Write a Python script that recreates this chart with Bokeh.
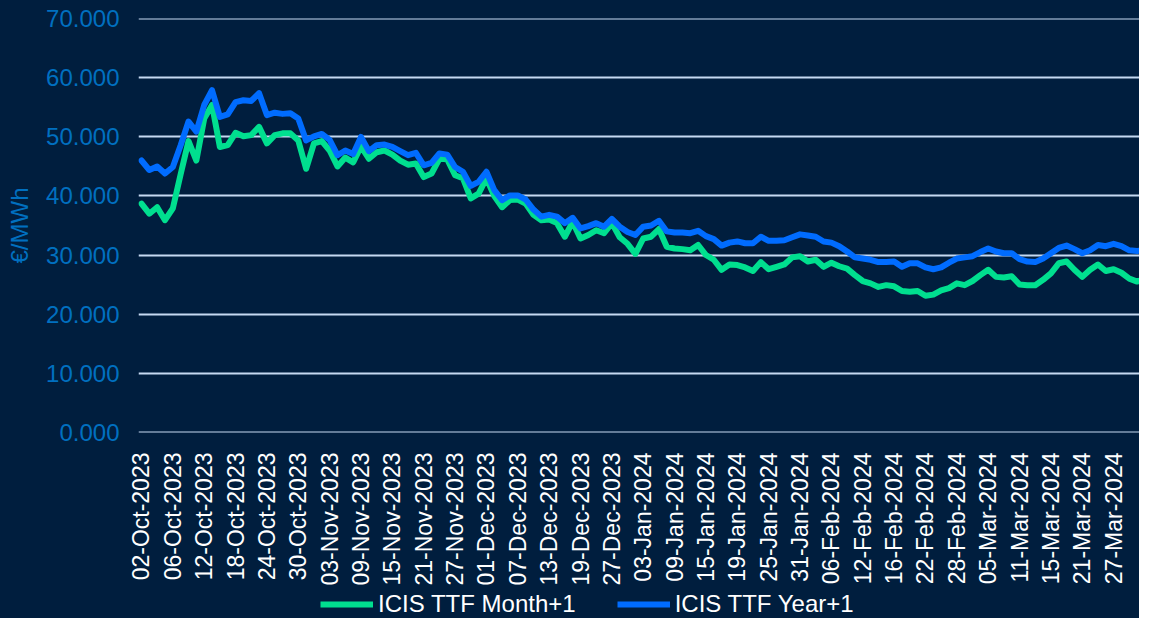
import math
from bokeh.plotting import figure
from bokeh.layouts import column
from bokeh.models import (Range1d, FixedTicker, PrintfTickFormatter, Legend, LegendItem,
                          ColumnDataSource)
from bokeh.embed import file_html
from bokeh.resources import INLINE

# ---------------- data ----------------
tick_labels = ["02-Oct-2023", "06-Oct-2023", "12-Oct-2023", "18-Oct-2023", "24-Oct-2023",
               "30-Oct-2023", "03-Nov-2023", "09-Nov-2023", "15-Nov-2023", "21-Nov-2023",
               "27-Nov-2023", "01-Dec-2023", "07-Dec-2023", "13-Dec-2023", "19-Dec-2023",
               "27-Dec-2023", "03-Jan-2024", "09-Jan-2024", "15-Jan-2024", "19-Jan-2024",
               "25-Jan-2024", "31-Jan-2024", "06-Feb-2024", "12-Feb-2024", "16-Feb-2024",
               "22-Feb-2024", "28-Feb-2024", "05-Mar-2024", "11-Mar-2024", "15-Mar-2024",
               "21-Mar-2024", "27-Mar-2024", "04-Apr-2024"]
tick_step = 4  # a label every 4th trading day

month_ahead = [38.7, 37.0, 38.1, 35.9, 37.9, 43.7, 49.3, 46.0, 53.1, 55.4,
               48.3, 48.6, 50.7, 50.1, 50.3, 51.7, 48.9, 50.3, 50.6, 50.6,
               49.4, 44.6, 48.9, 49.3, 47.7, 45.0, 46.5, 45.7, 48.4, 46.3,
               47.4, 47.7, 47.0, 46.0, 45.3, 45.5, 43.2, 43.8, 46.3, 46.2,
               43.5, 43.0, 39.6, 40.4, 43.0, 40.0, 38.1, 39.3, 39.4, 38.7,
               36.8, 35.9, 36.0, 35.4, 33.1, 35.6, 32.8, 33.4, 34.2, 33.7,
               35.4, 33.0, 31.9, 30.2, 32.8, 33.1, 34.4, 31.4, 31.1, 31.0,
               30.8, 31.7, 30.0, 29.2, 27.5, 28.4, 28.3, 27.9, 27.3, 28.8,
               27.6, 28.0, 28.4, 29.6, 29.8, 28.9, 29.2, 28.0, 28.7, 28.1,
               27.7, 26.6, 25.6, 25.2, 24.6, 24.9, 24.7, 23.9, 23.8, 23.9,
               23.1, 23.3, 24.0, 24.4, 25.2, 24.9, 25.6, 26.6, 27.5, 26.3,
               26.2, 26.4, 25.0, 24.9, 24.9, 25.8, 26.9, 28.6, 28.9, 27.5,
               26.3, 27.5, 28.4, 27.3, 27.6, 27.0, 26.0, 25.5, 26.0, 26.9]

year_ahead = [46.0, 44.4, 45.0, 43.8, 44.9, 48.6, 52.6, 50.9, 55.4, 57.9,
              53.4, 53.8, 55.9, 56.2, 56.1, 57.4, 53.7, 54.1, 53.9, 54.0,
              53.1, 49.4, 50.1, 50.5, 49.5, 46.9, 47.7, 47.1, 50.0, 47.6,
              48.6, 48.7, 48.3, 47.6, 46.9, 47.3, 45.2, 45.6, 47.2, 47.0,
              44.9, 44.1, 41.7, 42.4, 44.1, 41.0, 39.3, 40.1, 40.1, 39.4,
              37.7, 36.5, 36.8, 36.5, 35.4, 36.3, 34.5, 34.9, 35.4, 34.8,
              36.1, 34.8, 33.9, 33.4, 34.8, 35.0, 35.8, 34.0, 33.8, 33.8,
              33.7, 34.1, 33.2, 32.7, 31.6, 32.1, 32.3, 32.0, 32.0, 33.1,
              32.4, 32.4, 32.5, 33.0, 33.5, 33.3, 33.1, 32.3, 32.1, 31.5,
              30.6, 29.6, 29.4, 29.2, 28.8, 28.8, 28.9, 28.0, 28.6, 28.6,
              27.9, 27.6, 27.9, 28.7, 29.4, 29.6, 29.8, 30.5, 31.1, 30.6,
              30.3, 30.3, 29.3, 28.9, 28.8, 29.4, 30.3, 31.2, 31.6, 31.0,
              30.3, 30.8, 31.7, 31.5, 31.9, 31.5, 30.8, 30.7, 30.8, 31.7]

series_names = ["ICIS TTF Month+1", "ICIS TTF Year+1"]
y_axis_title = "€/MWh"
y_ticks = [0, 10, 20, 30, 40, 50, 60, 70]

# ---------------- style ----------------
BG = "#001E3E"
GREEN = "#00DF8F"
BLUE = "#006CFF"
GRID = "#C5D9F1"
YLAB = "#0070C0"
FONT = "Liberation Sans"

x = list(range(len(month_ahead)))
src = ColumnDataSource(dict(x=x, m=month_ahead, y=year_ahead))

# ---------------- main chart ----------------
p = figure(width=1139, height=590, output_backend="svg", toolbar_location=None,
           x_range=Range1d(-0.38, 127.3), y_range=Range1d(-0.05, 70.05),
           min_border_left=138, min_border_right=0, min_border_top=18, min_border_bottom=158,
           styles={"background-color": BG})
p.background_fill_color = BG
p.border_fill_color = None
p.outline_line_color = None

p.line("x", "m", source=src, line_color=GREEN, line_width=6,
       line_join="round", line_cap="round")
p.line("x", "y", source=src, line_color=BLUE, line_width=6,
       line_join="round", line_cap="round")

p.xgrid.grid_line_color = None
p.ygrid.grid_line_color = GRID
p.ygrid.grid_line_width = 2
p.ygrid.ticker = FixedTicker(ticks=y_ticks)

ya = p.yaxis[0]
ya.ticker = FixedTicker(ticks=y_ticks)
ya.formatter = PrintfTickFormatter(format="%.3f")
ya.axis_line_color = None
ya.major_tick_line_color = None
ya.minor_tick_line_color = None
ya.major_tick_out = 0
ya.major_tick_in = 0
ya.minor_tick_out = 0
ya.major_label_standoff = 19
ya.major_label_text_color = YLAB
ya.major_label_text_font = FONT
ya.major_label_text_font_size = "24px"
ya.axis_label = y_axis_title
ya.axis_label_text_color = YLAB
ya.axis_label_text_font = FONT
ya.axis_label_text_font_size = "24px"
ya.axis_label_text_font_style = "normal"
ya.axis_label_standoff = 10

tick_pos = [i * tick_step for i in range(len(tick_labels))]
xa = p.xaxis[0]
xa.ticker = FixedTicker(ticks=tick_pos)
xa.major_label_overrides = {t: lab for t, lab in zip(tick_pos, tick_labels)}
xa.major_label_orientation = math.pi / 2
xa.axis_line_color = None
xa.major_tick_line_color = None
xa.minor_tick_line_color = None
xa.major_tick_out = 0
xa.major_tick_in = 0
xa.minor_tick_out = 0
xa.major_label_standoff = 20
xa.major_label_text_color = "#FFFFFF"
xa.major_label_text_font = FONT
xa.major_label_text_font_size = "23px"

# ---------------- legend strip ----------------
# same series drawn in a strip whose y range lies above the data, so only the legend shows
q = figure(width=1139, height=28, output_backend="svg", toolbar_location=None,
           x_range=Range1d(-0.38, 127.3), y_range=Range1d(500, 501),
           x_axis_type=None, y_axis_type=None,
           min_border_left=0, min_border_right=0, min_border_top=0, min_border_bottom=0,
           styles={"background-color": BG})
q.background_fill_color = BG
q.border_fill_color = None
q.outline_line_color = None
q.xgrid.visible = False
q.ygrid.visible = False
g1 = q.line("x", "m", source=src, line_color=GREEN, line_width=6)
g2 = q.line("x", "y", source=src, line_color=BLUE, line_width=6)

legend = Legend(items=[LegendItem(label=series_names[0], renderers=[g1]),
                       LegendItem(label=series_names[1], renderers=[g2])],
                orientation="horizontal", location=(182, 0),
                glyph_width=53, glyph_height=20, label_standoff=5, spacing=41,
                padding=0, margin=0, border_line_color=None,
                background_fill_alpha=0,
                label_text_color="#FFFFFF", label_text_font=FONT,
                label_text_font_size="24px")
q.add_layout(legend, "center")

layout = column(p, q, spacing=0, styles={"background-color": BG})
open("out.html", "w").write(file_html(layout, INLINE))
